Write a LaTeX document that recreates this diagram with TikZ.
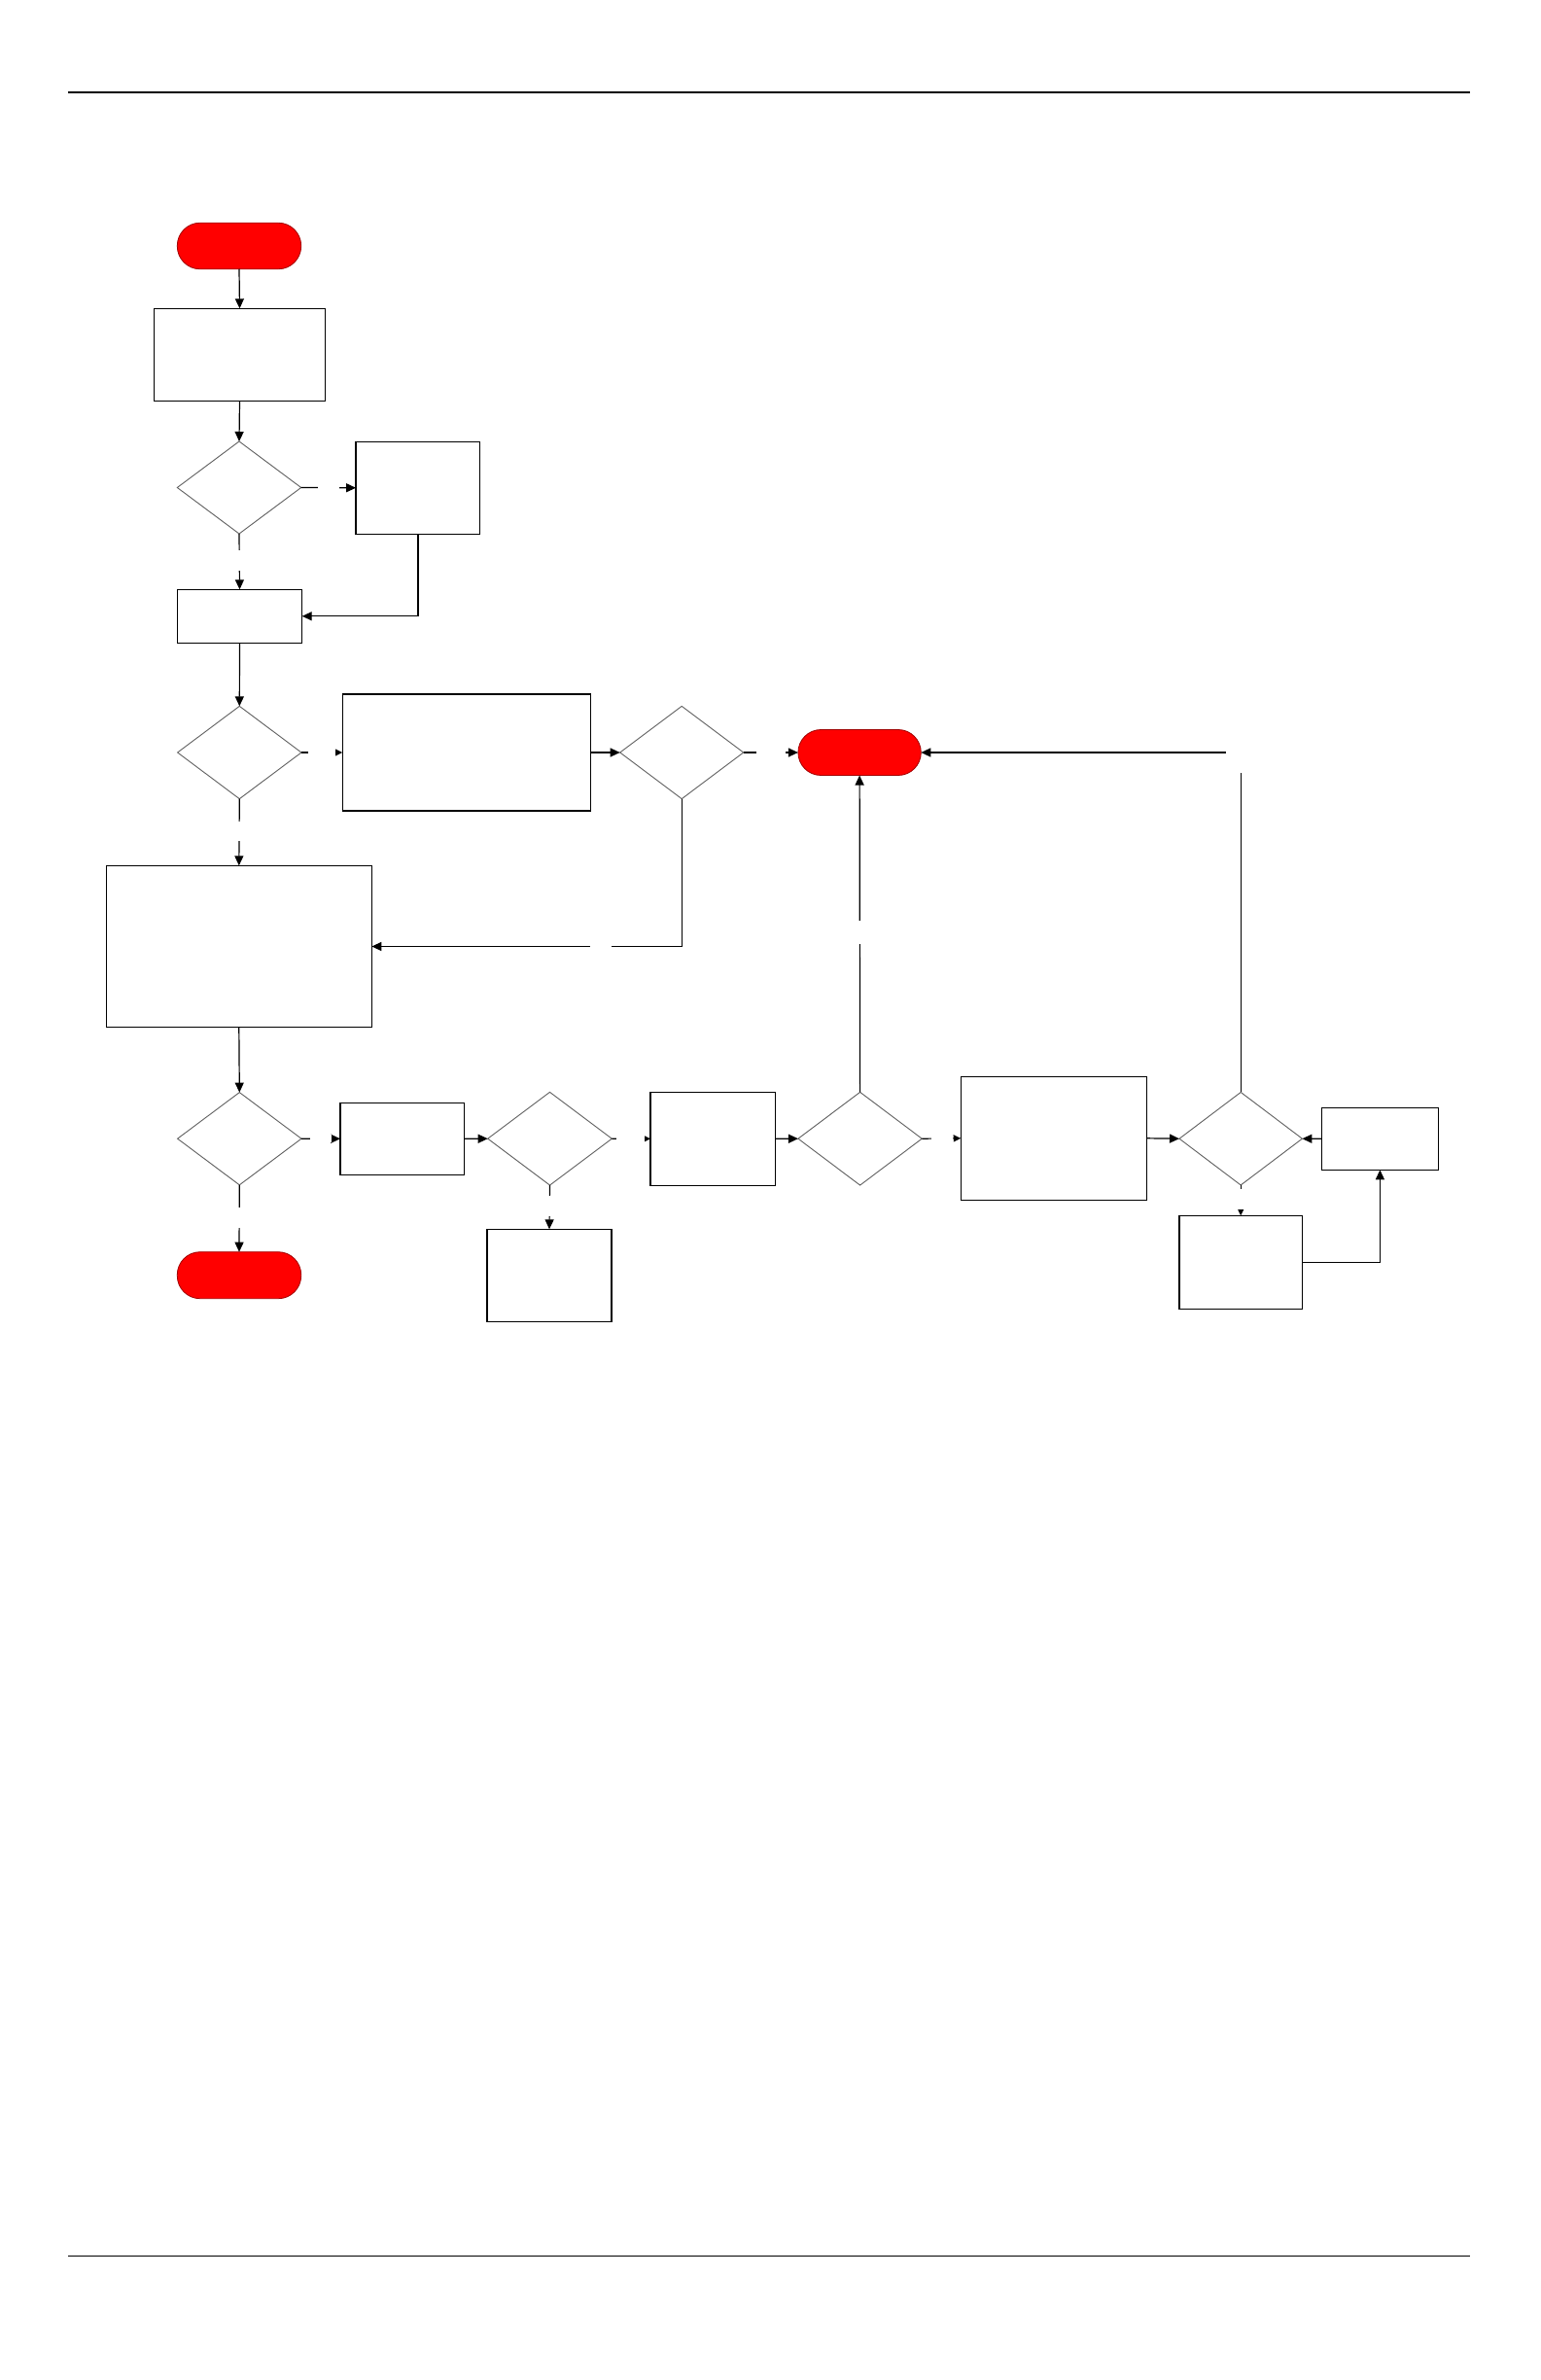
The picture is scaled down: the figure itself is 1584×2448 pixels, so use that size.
\documentclass[tikz,border=0pt]{standalone}
\usetikzlibrary{shapes.geometric,arrows.meta}
\definecolor{termred}{HTML}{FF0000}
\definecolor{termedge}{HTML}{A00000}
\definecolor{diaedge}{HTML}{606060}
\begin{document}
\begin{tikzpicture}[x=1pt,y=-1pt,
  box/.style={rectangle, draw=black, line width=1.3pt, fill=white, inner sep=0pt, outer sep=0pt},
  dia/.style={diamond, draw=diaedge, line width=0.9pt, fill=white, inner sep=0pt, outer sep=0pt, aspect=1.34},
  term/.style={rectangle, rounded corners=23.5pt, draw=termedge, line width=0.8pt, fill=termred, inner sep=0pt, outer sep=0pt, minimum width=127.4pt, minimum height=47.5pt},
  conn/.style={draw=black, line width=1.2pt},
  arr/.style={conn, -{Triangle[length=10pt,width=9pt]}},
  sarr/.style={conn, -{Triangle[length=7.5pt,width=7pt]}},
  gapn/.style={fill=white, inner sep=0pt, outer sep=0pt, anchor=center},
  rule/.style={draw=black, line width=1.4pt}
]
\useasboundingbox (0,0) rectangle (1584,2448);
\fill[white] (0,0) rectangle (1584,2448);

% header / footer rules
\coordinate (hl) at (70,95);
\coordinate (hr) at (1512,95);
\coordinate (fl) at (70,2320.6);
\coordinate (fr) at (1512,2320.6);
\draw[rule] (hl) -- (hr);
\draw[rule] (fl) -- (fr);

% column 1
\node[term] (start) at (246,253) {};
\node[box, minimum width=176.4pt, minimum height=95pt] (b1) at (246.5,364.8) {};
\node[dia, minimum width=127.4pt, minimum height=95pt] (d1) at (246,501.5) {};
\node[box, minimum width=127.7pt, minimum height=95pt] (b2) at (429.9,501.8) {};
\node[box, minimum width=128.4pt, minimum height=55pt] (b3) at (246.5,633.8) {};
\node[dia, minimum width=127.4pt, minimum height=95.3pt] (d2) at (246.3,774) {};
\node[box, minimum width=255pt, minimum height=120.2pt] (b4) at (479.8,774) {};
\node[dia, minimum width=127pt, minimum height=95.3pt] (d3) at (701.2,774) {};
\node[term, minimum width=126.4pt, minimum height=47pt] (e1) at (884.1,774) {};
\node[box, minimum width=273.1pt, minimum height=166.4pt] (b5) at (245.8,973.5) {};

% bottom row
\node[dia, minimum width=127.4pt, minimum height=95.2pt] (d4) at (246.3,1171.2) {};
\node[term, minimum height=48pt] (e2) at (246,1311.7) {};
\node[box, minimum width=127.3pt, minimum height=74pt] (b6) at (413.7,1171.3) {};
\node[dia, minimum width=127.6pt, minimum height=95.7pt] (d5) at (565.5,1171.2) {};
\node[box, minimum width=128pt, minimum height=95pt] (b7) at (565,1311.8) {};
\node[box, minimum width=128.7pt, minimum height=96pt] (b8) at (733.4,1171.3) {};
\node[dia, minimum width=127.3pt, minimum height=95.7pt] (d6) at (884.6,1171.2) {};
\node[box, minimum width=191.5pt, minimum height=127pt] (b9) at (1084,1170.8) {};
\node[dia, minimum width=126.4pt, minimum height=95.5pt] (d7) at (1276.2,1171.2) {};
\node[box, minimum width=120pt, minimum height=64pt] (b10) at (1419.4,1171.3) {};
\node[box, minimum width=126.4pt, minimum height=96pt] (b11) at (1276.2,1298.3) {};

% connectors
\draw[arr] (start.south) -- (b1.north);
\draw[arr] (b1.south) -- (d1.north);
\draw[arr] (d1.east) -- node[gapn, minimum width=22pt, minimum height=8pt, pos=0.503] {} (b2.west);
\draw[arr] (d1.south) -- node[gapn, minimum width=8pt, minimum height=21pt, pos=0.475] {} (b3.north);
\draw[arr] (b2.south) |- (b3.east);
\draw[arr] (b3.south) -- (d2.north);
\draw[sarr] (d2.east) -- node[gapn, minimum width=28pt, minimum height=8pt, pos=0.49] {} (b4.west);
\draw[arr] (b4.east) -- (d3.west);
\draw[arr] (d3.east) -- node[gapn, minimum width=29.5pt, minimum height=8pt, pos=0.503] {} (e1.west);
\draw[arr] (d3.south) |- node[gapn, minimum width=22.3pt, minimum height=8pt, pos=0.631] {} (b5.east);
\draw[arr] (d2.south) -- node[gapn, minimum width=8pt, minimum height=20.3pt, pos=0.486] {} (b5.north);
\draw[arr] (b5.south) -- (d4.north);
\draw[arr] (d4.south) -- node[gapn, minimum width=8pt, minimum height=21pt, pos=0.489] {} (e2.north);
\draw[arr] (d4.east) -- node[gapn, minimum width=21.7pt, minimum height=8pt, pos=0.506] {} (b6.west);
\draw[arr] (b6.east) -- (d5.west);
\draw[arr] (d5.south) -- node[gapn, minimum width=8pt, minimum height=21.3pt, pos=0.472] {} (b7.north);
\draw[sarr] (d5.east) -- node[gapn, minimum width=28.4pt, minimum height=8pt, pos=0.484] {} (b8.west);
\draw[arr] (b8.east) -- (d6.west);
\draw[sarr] (d6.east) -- node[gapn, minimum width=22.3pt, minimum height=8pt, pos=0.515] {} (b9.west);
\draw[arr] (d6.north) -- node[gapn, minimum width=8pt, minimum height=23.4pt, pos=0.504] {} (e1.south);
\draw[arr] (b9.east) -- (d7.west);
\draw[arr] (b10.west) -- (d7.east);
\draw[sarr] (d7.south) -- node[gapn, minimum width=8pt, minimum height=21pt, pos=0.473] {} (b11.north);
\draw[arr] (b11.east) -| (b10.south);
\draw[arr] (d7.north) |- node[gapn, minimum width=30pt, minimum height=42pt, pos=0.5] {} (e1.east);
\end{tikzpicture}
\end{document}
